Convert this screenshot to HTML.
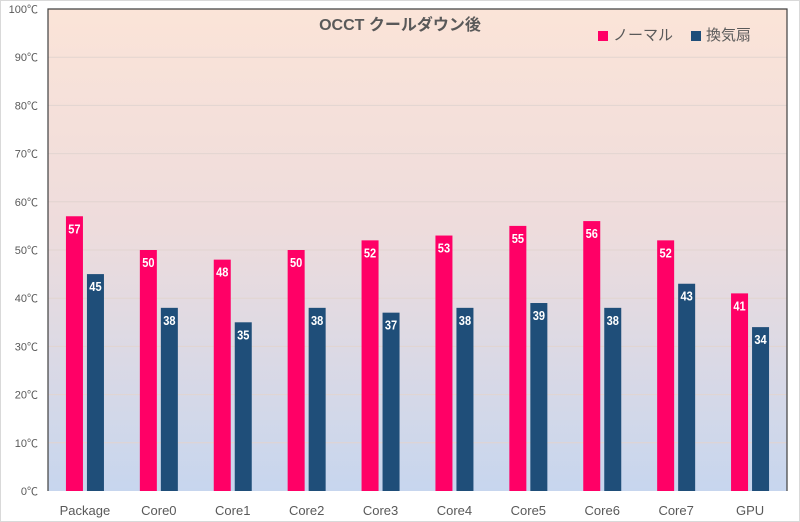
<!DOCTYPE html>
<html><head><meta charset="utf-8"><style>
html,body{margin:0;padding:0;background:#fff;}
svg{display:block;font-family:"Liberation Sans","Noto Sans CJK JP",sans-serif;}
</style></head><body>
<svg width="800" height="522" viewBox="0 0 800 522">
<defs><linearGradient id="bg" x1="0" y1="0" x2="0" y2="1">
<stop offset="0" stop-color="#fbe4d8"/><stop offset="0.45" stop-color="#eedcdc"/><stop offset="1" stop-color="#c7d6ee"/></linearGradient></defs>
<rect x="0.5" y="0.5" width="799" height="521" fill="#fff" stroke="#d9d9d9"/>
<rect x="48" y="9" width="739" height="482" fill="url(#bg)"/>
<g id="grid"></g>
<path d="M48,491 V9 H787 V491" fill="none" stroke="#404040" stroke-width="1.2"/>
<g id="ylabels"></g>
<g id="bars"></g>
<g id="xlabels"></g>
<text x="400" y="30" text-anchor="middle" font-size="16" font-weight="bold" fill="#595959">OCCT  クールダウン後</text>
<rect x="598" y="31" width="10" height="10" fill="#ff0066"/>
<text x="613" y="40" font-size="15" fill="#595959">ノーマル</text>
<rect x="691" y="31" width="10" height="10" fill="#1f4e79"/>
<text x="706" y="40" font-size="15" fill="#595959">換気扇</text>
</svg>
<script>
const categories=["Package","Core0","Core1","Core2","Core3","Core4","Core5","Core6","Core7","GPU"];
const normalValues=[57,50,48,50,52,53,55,56,52,41];
const fanValues=[45,38,35,38,37,38,39,38,43,34];
const yTicks=[0,10,20,30,40,50,60,70,80,90,100];
const NS="http://www.w3.org/2000/svg";
const L=48,R=787,T=9,B=491,ymax=100;
const y=v=>B-(v/ymax)*(B-T);
const band=(R-L)/categories.length;
const xc=i=>L+band*(i+0.5);
function mk(tag,attrs,parent,text){const e=document.createElementNS(NS,tag);for(const k in attrs)e.setAttribute(k,attrs[k]);if(text!==undefined)e.textContent=text;document.getElementById(parent).appendChild(e);return e;}
yTicks.forEach(t=>{
  if(t>0&&t<100){const g=mk('line',{x1:L,x2:R,y1:y(t),y2:y(t),stroke:'#e2d4d0','stroke-width':1},'grid');
  
  }
  const l=mk('text',{x:38,y:y(t)+4,'text-anchor':'end','font-size':11,fill:'#595959'},'ylabels',t+'℃');
  
  
});
categories.forEach((c,i)=>{
  const cx=xc(i);
  [[normalValues[i],cx-19,'#ff0066','normal'],[fanValues[i],cx+2,'#1f4e79','fan']].forEach(([v,x,col,nm])=>{
    const r=mk('rect',{x:x,y:y(v),width:17,height:B-y(v),fill:col},'bars');
    
    
    const t=mk('text',{x:x+8.5,y:y(v)+17,'text-anchor':'middle','font-size':13,'font-weight':'bold',fill:'#fff',transform:`translate(${x+8.5} 0) scale(0.85 1) translate(${-(x+8.5)} 0)`},'bars',v);
    
    
  });
  const xl=mk('text',{x:cx,y:515,'text-anchor':'middle','font-size':13,fill:'#595959'},'xlabels',c);
  
  
});
</script>
</body></html>
